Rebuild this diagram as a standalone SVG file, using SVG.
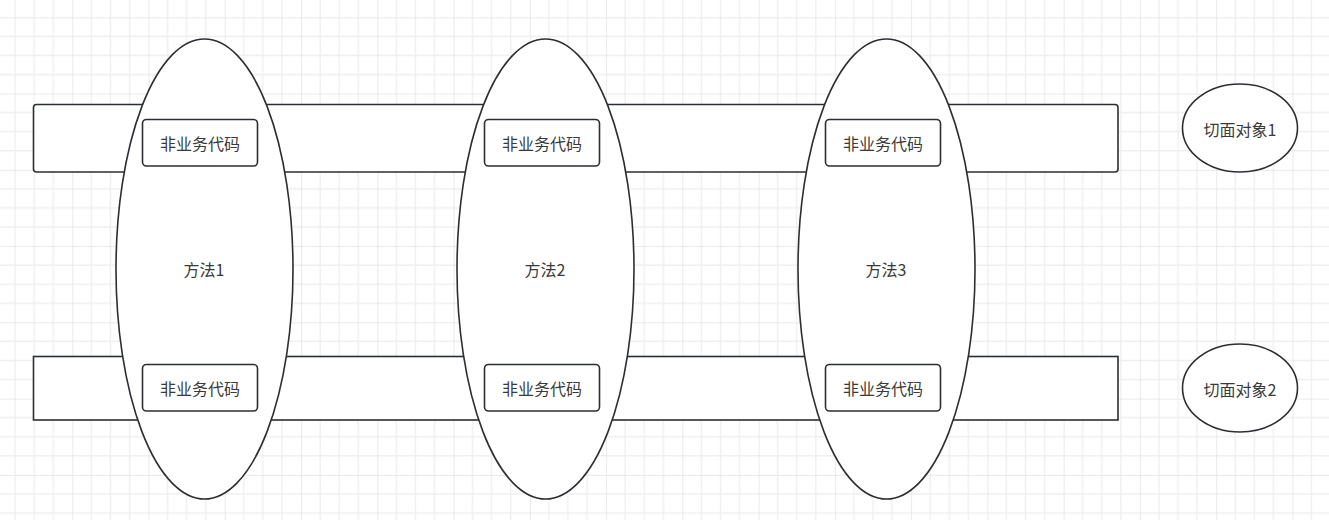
<svg xmlns="http://www.w3.org/2000/svg" width="1329" height="520" viewBox="0 0 1329 520">
<style>
.shape{fill:#ffffff;stroke:#2b2e33;stroke-width:1.6}
.lbl{font-family:"Noto Sans CJK SC","Liberation Sans",sans-serif;font-size:16px;fill:#3a3a3a;text-anchor:middle;dominant-baseline:central}
</style>
<defs>
<pattern id="grid" patternUnits="userSpaceOnUse" x="-4" y="17.3" width="76.26" height="76.26">
<rect x="0" y="0" width="76.26" height="76.26" fill="#ffffff"/>
<g stroke="#efefef" stroke-width="1.3">
<line x1="19.07" y1="0" x2="19.07" y2="76.26"/>
<line x1="38.13" y1="0" x2="38.13" y2="76.26"/>
<line x1="57.2" y1="0" x2="57.2" y2="76.26"/>
<line x1="0" y1="19.07" x2="76.26" y2="19.07"/>
<line x1="0" y1="38.13" x2="76.26" y2="38.13"/>
<line x1="0" y1="57.2" x2="76.26" y2="57.2"/>
</g>
<g stroke="#e3e3e3" stroke-width="1.5">
<line x1="0" y1="0" x2="0" y2="76.26"/>
<line x1="0" y1="0" x2="76.26" y2="0"/>
</g>
</pattern>
</defs>
<rect x="0" y="0" width="1329" height="520" fill="url(#grid)"/>

<g id="aspect1-band"><rect class="shape" x="33.5" y="104.5" width="1084.5" height="67.5" rx="3"/></g>
<g id="aspect2-band"><rect class="shape" x="33.5" y="356.5" width="1084.5" height="63.5"/></g>

<g id="method1"><ellipse class="shape" cx="204.5" cy="269" rx="88.5" ry="230"/><text class="lbl" x="204" y="268.5">方法1</text></g>
<g id="method2"><ellipse class="shape" cx="545.5" cy="269" rx="88.5" ry="230"/><text class="lbl" x="545" y="268.5">方法2</text></g>
<g id="method3"><ellipse class="shape" cx="886.5" cy="269" rx="88.5" ry="230"/><text class="lbl" x="886" y="268.5">方法3</text></g>

<g id="m1-top"><rect class="shape" x="142.5" y="119.5" width="115" height="46.5" rx="4"/><text class="lbl" x="200" y="142.5">非业务代码</text></g>
<g id="m2-top"><rect class="shape" x="484.5" y="119.5" width="115" height="46.5" rx="4"/><text class="lbl" x="542" y="142.5">非业务代码</text></g>
<g id="m3-top"><rect class="shape" x="825.5" y="119.5" width="115" height="46.5" rx="4"/><text class="lbl" x="883" y="142.5">非业务代码</text></g>
<g id="m1-bottom"><rect class="shape" x="142.5" y="364.5" width="115" height="46.5" rx="4"/><text class="lbl" x="200" y="387.5">非业务代码</text></g>
<g id="m2-bottom"><rect class="shape" x="484.5" y="364.5" width="115" height="46.5" rx="4"/><text class="lbl" x="542" y="387.5">非业务代码</text></g>
<g id="m3-bottom"><rect class="shape" x="825.5" y="364.5" width="115" height="46.5" rx="4"/><text class="lbl" x="883" y="387.5">非业务代码</text></g>

<g id="aspect1"><ellipse class="shape" cx="1240" cy="128" rx="57.5" ry="44"/><text class="lbl" x="1240" y="128.5">切面对象1</text></g>
<g id="aspect2"><ellipse class="shape" cx="1240" cy="388" rx="57.5" ry="44"/><text class="lbl" x="1240" y="388.5">切面对象2</text></g>

<g id="connectors"></g>
</svg>
